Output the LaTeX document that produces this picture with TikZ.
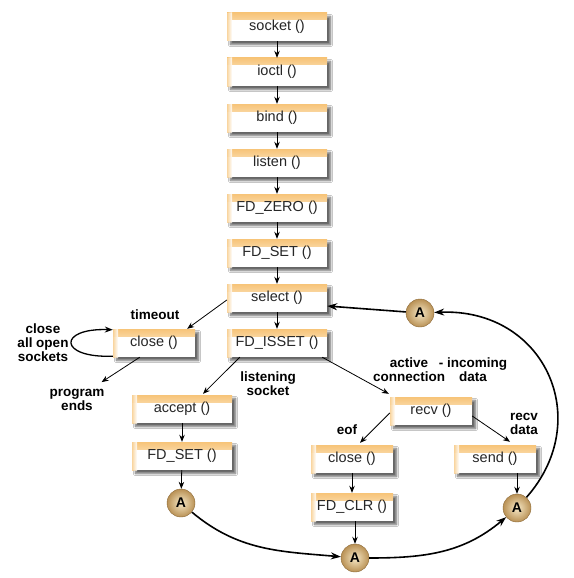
\documentclass[tikz,border=0pt]{standalone}
\usepackage{fontspec}
\setmainfont{Liberation Sans}
\usetikzlibrary{arrows.meta,shadows.blur,shadings}
\definecolor{boxorange}{RGB}{247,196,120}
\definecolor{ballin}{RGB}{246,232,198}
\definecolor{ballout}{RGB}{185,145,85}
\definecolor{ballrim}{RGB}{140,105,55}
\begin{document}
\begin{tikzpicture}[x=1pt,y=1pt,
  fn/.style={fill=white, minimum height=28pt, minimum width=100pt, inner sep=0pt,
    text=black!85, font=\fontsize{14.5}{16}\selectfont,
    blur shadow={shadow xshift=3.5pt, shadow yshift=-3.5pt, shadow blur steps=6, shadow opacity=60},
    path picture={
      \fill[top color=boxorange, bottom color=white]
        (path picture bounding box.north west) rectangle ([yshift=-7pt]path picture bounding box.north east);
      \fill[left color=boxorange, right color=white, fill opacity=0.7]
        (path picture bounding box.north west) rectangle ([xshift=5pt]path picture bounding box.south west);
    }},
  narrow/.style={minimum width=82pt},
  lbl/.style={font=\bfseries\fontsize{13.5}{14}\selectfont, align=center, inner sep=1pt},
  ballA/.style={circle, minimum size=28pt, inner sep=0pt, shading=radial, inner color=ballin,
    outer color=ballout, draw=ballrim, line width=0.4pt,
    font=\bfseries\fontsize{14}{14}\selectfont},
  arr/.style={-{Stealth[length=7pt,width=5.5pt]}, line width=0.8pt},
  big/.style={-{Stealth[length=10pt,width=7pt]}, line width=1.6pt}]
\fill[white] (0,0) rectangle (573,-578);
\useasboundingbox (0,0) rectangle (573,-578);

% main column
\node[fn] (s1) at (277,-27) {socket ()};
\node[fn] (s2) at (277,-72) {ioctl ()};
\node[fn] (s3) at (277,-118) {bind ()};
\node[fn] (s4) at (277,-163) {listen ()};
\node[fn] (s5) at (277,-208) {FD\_ZERO ()};
\node[fn] (s6) at (277,-253) {FD\_SET ()};
\node[fn] (sel) at (277,-298) {select ()};
\node[fn] (iss) at (277,-343) {FD\_ISSET ()};

% left branch
\node[fn,narrow] (cl) at (154,-343) {close ()};
\node[fn] (acc) at (182,-409) {accept ()};
\node[fn] (fds) at (182,-456) {FD\_SET ()};
\node[ballA] (Al) at (181,-503) {A};

% right branch
\node[fn,narrow] (rcv) at (431,-411) {recv ()};
\node[fn,narrow] (cl2) at (352,-459) {close ()};
\node[fn,narrow] (clr) at (352,-507) {FD\_CLR ()};
\node[ballA] (Ab) at (355,-558) {A};
\node[fn,narrow] (snd) at (495,-459) {send ()};
\node[ballA] (Ar) at (517,-508) {A};
\node[ballA] (At) at (420,-313) {A};

% labels
\node[lbl] (tmo) at (155,-315) {timeout};
\node[lbl] (cao) at (43,-343) {close\\all open\\sockets};
\node[lbl] (pe) at (77,-400) {program\\ends};
\node[lbl] (ls) at (268,-384) {listening\\socket};
\node[lbl] (ac) at (409,-370) {active\\connection};
\node[lbl] (inc) at (473,-370) {- incoming\\data};
\node[lbl] (eof) at (347,-430) {eof};
\node[lbl] (rd) at (524,-424) {recv\\data};

% straight connectors
\foreach \a/\b in {s1/s2,s2/s3,s3/s4,s4/s5,s5/s6,s6/sel,sel/iss,acc/fds,fds/Al,cl2/clr}
  \draw[arr] (\a) -- (\b);
\draw[arr] (clr.south -| Ab.north) -- (Ab.north);
\draw[arr] (snd.south -| Ar.north) -- (Ar.north);
\draw[arr] ([yshift=-2pt]sel.west) -- ([xshift=-8pt]cl.north east);
\draw[arr] ([xshift=13pt]iss.south west) -- ([xshift=21pt,yshift=1pt]acc.north);
\draw[arr] ([xshift=-5pt]iss.south east) -- ([xshift=-1pt,yshift=3pt]rcv.north west);
\draw[arr] ([xshift=27pt]cl.south west) -- ([xshift=-4pt,yshift=6pt]pe.north east);
\draw[arr] ([yshift=-2pt]rcv.west) -- ([xshift=8pt,yshift=2pt]cl2.north);
\draw[arr] ([yshift=-5pt]rcv.east) -- ([xshift=15pt,yshift=3pt]snd.north);

% loop on close
\draw[-{Stealth[length=8pt,width=6pt]}, line width=1.3pt]
  ([yshift=1pt]cl.south west) .. controls +(-55,-2) and +(-55,2) .. ([yshift=-1pt]cl.north west);

% big curves
\draw[big] (Al) to[out=-40,in=175] (Ab);
\draw[big] (Ab) to[out=0,in=-140] (Ar);
\draw[big] (Ar) .. controls (595,-420) and (545,-308) .. (At);
\draw[big] (At) -- ([yshift=-8pt]sel.east);
\end{tikzpicture}
\end{document}
